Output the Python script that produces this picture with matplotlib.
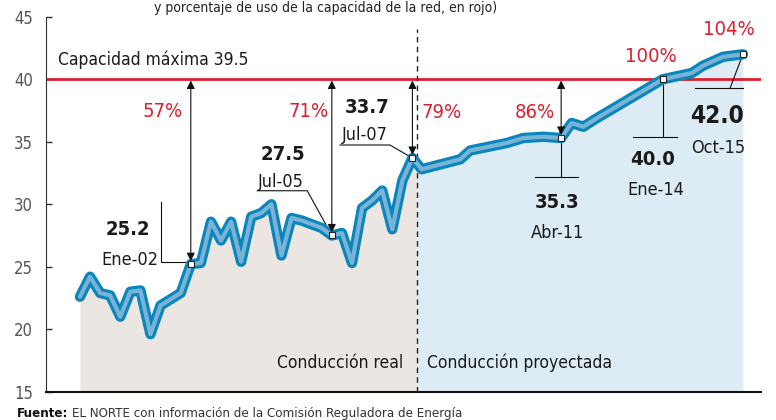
import numpy as np
import matplotlib
matplotlib.use("Agg")
import matplotlib.pyplot as plt
from matplotlib import font_manager

# narrowest font that is available
names = {f.name for f in font_manager.fontManager.ttflist}
if 'Liberation Sans Narrow' in names:
    FONT = dict(family='Liberation Sans Narrow')
else:
    FONT = dict(family='DejaVu Sans', stretch='condensed')

# conduccion real (trimestral)
real_t = [1999.25, 1999.5, 1999.75, 2000.0, 2000.25, 2000.5, 2000.75, 2001.0,
          2001.25, 2001.5, 2001.75, 2002.0, 2002.25, 2002.5, 2002.75, 2003.0,
          2003.25, 2003.5, 2003.75, 2004.0, 2004.25, 2004.5, 2004.75, 2005.0,
          2005.25, 2005.5, 2005.75, 2006.0, 2006.25, 2006.5, 2006.75, 2007.0,
          2007.25, 2007.5]
real_v = [22.6, 24.2, 22.9, 22.7, 21.0, 23.0, 23.1, 19.6,
          21.9, 22.4, 22.9, 25.2, 25.3, 28.6, 27.1, 28.6,
          25.4, 29.0, 29.3, 30.0, 25.9, 28.9, 28.7, 28.4,
          28.1, 27.5, 27.7, 25.3, 29.7, 30.3, 31.1, 28.0,
          31.9, 33.7]

# conduccion proyectada
proj_t = [2007.5, 2007.73, 2008.69, 2008.93, 2009.84, 2010.25, 2010.75, 2011.19,
          2011.45, 2011.74, 2012.03, 2013.71, 2014.43, 2014.72, 2015.21, 2015.7]
proj_v = [33.7, 32.8, 33.6, 34.3, 34.9, 35.3, 35.4, 35.3,
          36.5, 36.2, 36.8, 40.0, 40.5, 41.1, 41.8, 42.0]

capacidad = 39.5      # valor rotulado
linea_cap = 40.0      # donde esta dibujada la linea roja
corte = 2007.61       # separacion real / proyectada

key_t = [2002.0, 2005.5, 2007.5, 2011.19, 2013.71, 2015.7]
key_v = [25.2, 27.5, 33.7, 35.3, 40.0, 42.0]
key_lbl = ['Ene-02', 'Jul-05', 'Jul-07', 'Abr-11', 'Ene-14', 'Oct-15']
pct = ['57%', '71%', '79%', '86%', '100%', '104%']

BLUE = '#0a86bd'
LBLUE = '#79b3d6'
RED = '#dc1f2e'

fig = plt.figure(figsize=(7.76, 4.20), dpi=100)
ax = fig.add_axes([0.0589, 0.0674, 0.9218, 0.8926])
ax.set_xlim(1998.40, 2016.15)
ax.set_ylim(15, 45)

t_all = np.array(real_t + proj_t[1:])
v_all = np.array(real_v + proj_v[1:])
v_cut = np.interp(corte, t_all, v_all)
ti = np.append(t_all[t_all < corte], corte)
vi = np.append(v_all[t_all < corte], v_cut)
ax.fill_between(ti, 15, vi, color='#ebe6e1', lw=0, zorder=1)
tp = np.insert(t_all[t_all > corte], 0, corte)
vp = np.insert(v_all[t_all > corte], 0, v_cut)
ax.fill_between(tp, 15, vp, color='#ddecf4', lw=0, zorder=1)

ax.axhline(linea_cap, color=RED, lw=2, zorder=2)
ax.plot([corte, corte], [15, 44], color='#222222', lw=1, dashes=(4, 3), zorder=2)

ax.plot(t_all, v_all, color=BLUE, lw=7.5, solid_joinstyle='round',
        solid_capstyle='round', zorder=4)
ax.plot(t_all, v_all, color=LBLUE, lw=3, solid_joinstyle='round',
        solid_capstyle='round', zorder=5)

# flechas de uso de capacidad
for i in range(4):
    ax.annotate('', xy=(key_t[i], linea_cap - 0.1), xytext=(key_t[i], key_v[i] + 0.25),
                arrowprops=dict(arrowstyle='<|-|>', color='#111111', lw=0.8,
                                mutation_scale=12, shrinkA=0, shrinkB=0), zorder=6)

# lineas guia de las etiquetas
guias = [
    [(2001.26, 30.2), (2001.26, 25.4), (2002.0, 25.4)],
    [(2003.65, 31.08), (2004.89, 31.08), (2005.45, 27.8)],
    [(2005.70, 34.74), (2006.94, 34.74), (2007.5, 33.7)],
    [(2010.54, 32.2), (2011.61, 32.2)],
    [(2012.97, 35.4), (2014.06, 35.4)],
    [(2014.51, 39.27), (2015.7, 39.27)],
]
for g in guias:
    gx, gy = zip(*g)
    ax.plot(gx, gy, color='#111111', lw=0.8, zorder=3)
ax.plot([key_t[3], key_t[3]], [key_v[3], 32.2], color='#111111', lw=0.8, zorder=3)
ax.plot([key_t[4], key_t[4]], [key_v[4], 35.4], color='#111111', lw=0.8, zorder=3)
ax.plot([2015.38, key_t[5]], [39.27, key_v[5]], color='#111111', lw=0.8, zorder=3)

ax.plot(key_t, key_v, 's', ms=5, mfc='white', mec='#222222', mew=0.8, zorder=7)

# textos
val_pos = [(2000.44, 27.54), (2004.29, 33.54), (2006.38, 37.30),
           (2011.09, 29.67), (2013.47, 33.14), (2015.05, 36.50)]
lbl_pos = [(2000.49, 25.14), (2004.24, 31.38), (2006.32, 35.14),
           (2011.09, 27.30), (2013.55, 30.74), (2015.08, 34.10)]
pct_pos = [(2001.31, 36.95), (2004.93, 36.95), (2008.23, 36.87),
           (2010.54, 36.87), (2013.42, 41.40), (2015.34, 43.54)]
for i in range(6):
    size = 17.5 if i == 5 else 14.5
    ax.text(*val_pos[i], f'{key_v[i]:.1f}', ha='center', va='baseline',
            fontsize=size, fontweight='bold', color='#1a1a1a', zorder=8, **FONT)
    ax.text(*lbl_pos[i], key_lbl[i], ha='center', va='baseline',
            fontsize=13, color='#1a1a1a', zorder=8, **FONT)
    ax.text(*pct_pos[i], pct[i], ha='center', va='baseline',
            fontsize=14.5, color=RED, zorder=8, **FONT)

ax.text(1998.70, 41.13, f'Capacidad máxima {capacidad}', ha='left', va='baseline',
        fontsize=12.5, color='#1a1a1a', **FONT)
ax.text(2007.27, 16.87, 'Conducción real', ha='right', va='baseline',
        fontsize=12.5, color='#1a1a1a', zorder=8, **FONT)
ax.text(2007.87, 16.87, 'Conducción proyectada', ha='left', va='baseline',
        fontsize=12.5, color='#1a1a1a', zorder=8, **FONT)

fig.text(0.42, 0.972, 'y porcentaje de uso de la capacidad de la red, en rojo)',
         ha='center', va='baseline', fontsize=10, color='#222222', **FONT)
f1 = fig.text(0.022, 0.006, 'Fuente:', ha='left', va='baseline', fontsize=9.5,
              fontweight='bold', color='#111111', **FONT)
bb = f1.get_window_extent(renderer=fig.canvas.get_renderer())
fig.text(bb.x1 / fig.bbox.width + 0.005, 0.006,
         'EL NORTE con información de la Comisión Reguladora de Energía',
         ha='left', va='baseline', fontsize=9.5, color='#333333', **FONT)

# ejes
ax.set_yticks(range(15, 46, 5))
ax.set_xticks([])
ax.tick_params(axis='y', direction='in', length=4, width=1, pad=9,
               labelsize=12, labelcolor='#555555', color='#333333')
for lab in ax.get_yticklabels():
    lab.set_fontfamily(FONT['family'])
    if 'stretch' in FONT:
        lab.set_fontstretch(FONT['stretch'])
ax.spines['top'].set_visible(False)
ax.spines['right'].set_visible(False)
ax.spines['left'].set_color('#333333')
ax.spines['bottom'].set_color('#111111')
ax.spines['bottom'].set_linewidth(1.5)
ax.patch.set_alpha(0)

fig.savefig('out.png', dpi=100)
